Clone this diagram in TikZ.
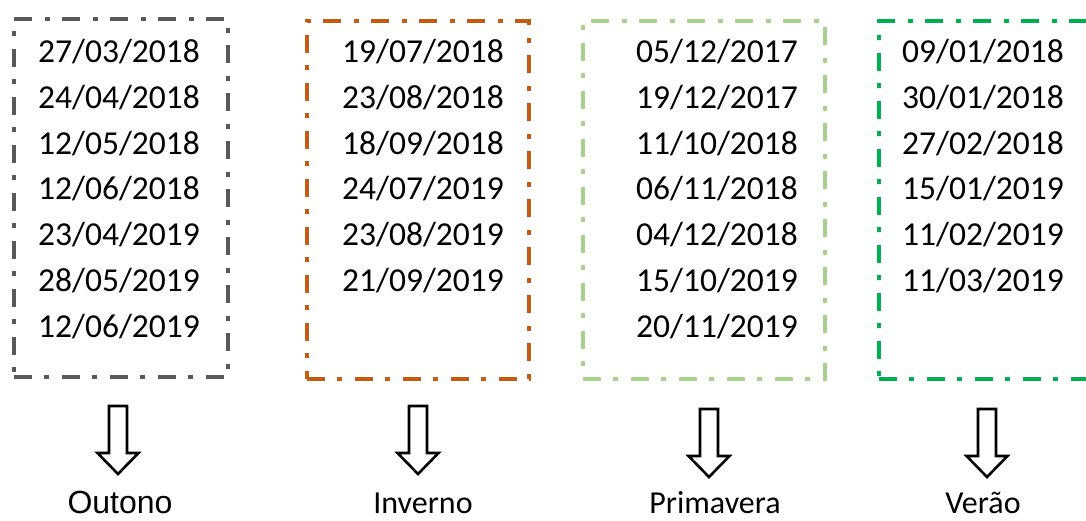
\documentclass[tikz,border=0pt]{standalone}
\usepackage{fontspec}
\setmainfont{Carlito}
\newfontfamily\arialfont{Liberation Sans}
\definecolor{cgray}{HTML}{595959}
\definecolor{corange}{HTML}{C55A11}
\definecolor{clgreen}{HTML}{A9D18E}
\definecolor{cgreen}{HTML}{00B050}
\tikzset{
  season/.style={draw=#1, line width=4pt, dash pattern=on 18pt off 12pt on 5pt off 13pt, minimum height=358pt, inner sep=0pt},
  dates/.style={align=center, font=\fontsize{33.5}{45.8}\selectfont, inner sep=0pt, anchor=north},
  blockarrow/.style={draw=black, fill=white, line width=2.6pt, line join=miter},
  lbl/.style={font=\fontsize{32}{38}\selectfont, inner sep=0pt, anchor=base}
}
\begin{document}
\begin{tikzpicture}[x=1pt, y=-1pt]
\useasboundingbox (0,0) rectangle (1086,521);
% boxes
\node[season=cgray, minimum width=214pt] (b1) at (121,198) {};
\node[season=corange, minimum width=222pt] (b2) at (418,200) {};
\node[season=clgreen, minimum width=242pt] (b3) at (704,200) {};
\node[season=cgreen, minimum width=213pt] (b4) at (985.5,200) {};
% dates
\node[dates] (d1) at (119,39) {27/03/2018\\24/04/2018\\12/05/2018\\12/06/2018\\23/04/2019\\28/05/2019\\12/06/2019};
\node[dates] (d2) at (423,39) {19/07/2018\\23/08/2018\\18/09/2018\\24/07/2019\\23/08/2019\\21/09/2019};
\node[dates] (d3) at (717,39) {05/12/2017\\19/12/2017\\11/10/2018\\06/11/2018\\04/12/2018\\15/10/2019\\20/11/2019};
\node[dates] (d4) at (983,39) {09/01/2018\\30/01/2018\\27/02/2018\\15/01/2019\\11/02/2019\\11/03/2019};
% arrows
\coordinate (a1) at (118,406);
\coordinate (a2) at (418,406);
\coordinate (a3) at (709,409);
\coordinate (a4) at (987,409);
\foreach \a in {a1,a2,a3,a4}{
  \draw[blockarrow, shift={(\a)}] (-9,0) -- (9,0) -- (9,47) -- (20.5,47) -- (0,68) -- (-20.5,47) -- (-9,47) -- cycle;
}
% labels
\node[lbl, font=\arialfont\fontsize{32}{36}\selectfont] (l1) at (120,513) {Outono};
\node[lbl] (l2) at (423,513) {Inverno};
\node[lbl] (l3) at (715,513) {Primavera};
\node[lbl] (l4) at (983,513) {Verão};
\end{tikzpicture}
\end{document}
